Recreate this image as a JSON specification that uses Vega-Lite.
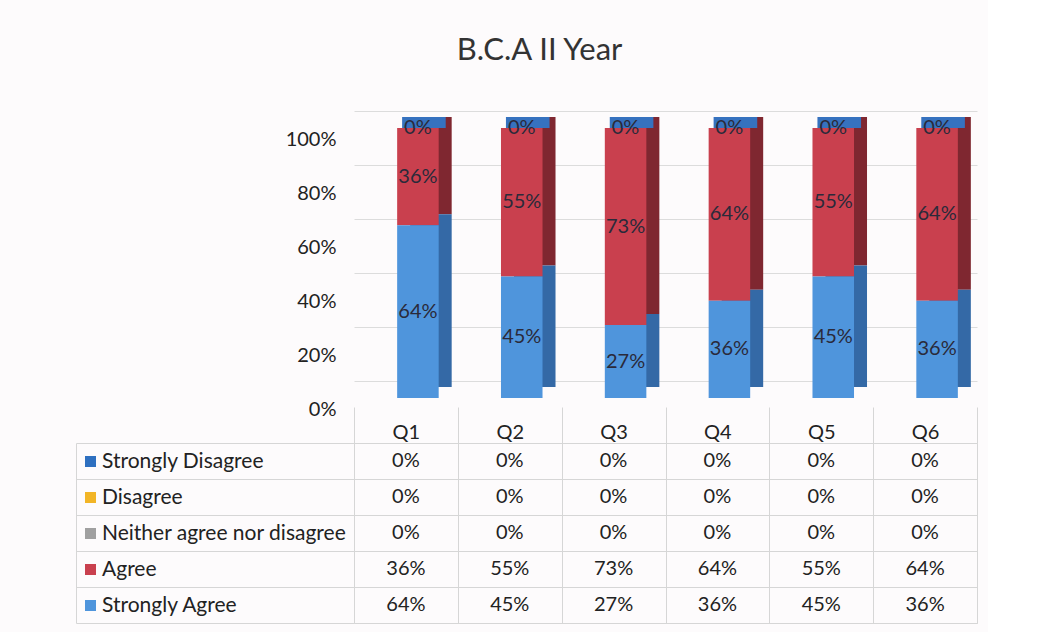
{
  "$schema": "https://vega.github.io/schema/vega-lite/v6.json",
  "background": "#fdfbfc",
  "padding": {"left": 75, "top": 35, "right": 10, "bottom": 8},
  "bounds": "flush",
  "spacing": 62,
  "title": {"text": "B.C.A II Year", "fontSize": 31, "font": "Lato", "fontWeight": "normal", "color": "#333333", "offset": 44, "anchor": "middle", "dx": 13},
  "config": {
    "font": "Lato",
    "view": {"stroke": null},
    "axis": {"labelFont": "Lato", "labelColor": "#222222", "title": null}
  },
  "data": {
    "values": [
      {"q": "Q1", "response": "Strongly Disagree", "score": 1, "value": 0},
      {"q": "Q1", "response": "Disagree", "score": 2, "value": 0},
      {"q": "Q1", "response": "Neither agree nor disagree", "score": 3, "value": 0},
      {"q": "Q1", "response": "Agree", "score": 4, "value": 0.36},
      {"q": "Q1", "response": "Strongly Agree", "score": 5, "value": 0.64},
      {"q": "Q2", "response": "Strongly Disagree", "score": 1, "value": 0},
      {"q": "Q2", "response": "Disagree", "score": 2, "value": 0},
      {"q": "Q2", "response": "Neither agree nor disagree", "score": 3, "value": 0},
      {"q": "Q2", "response": "Agree", "score": 4, "value": 0.55},
      {"q": "Q2", "response": "Strongly Agree", "score": 5, "value": 0.45},
      {"q": "Q3", "response": "Strongly Disagree", "score": 1, "value": 0},
      {"q": "Q3", "response": "Disagree", "score": 2, "value": 0},
      {"q": "Q3", "response": "Neither agree nor disagree", "score": 3, "value": 0},
      {"q": "Q3", "response": "Agree", "score": 4, "value": 0.73},
      {"q": "Q3", "response": "Strongly Agree", "score": 5, "value": 0.27},
      {"q": "Q4", "response": "Strongly Disagree", "score": 1, "value": 0},
      {"q": "Q4", "response": "Disagree", "score": 2, "value": 0},
      {"q": "Q4", "response": "Neither agree nor disagree", "score": 3, "value": 0},
      {"q": "Q4", "response": "Agree", "score": 4, "value": 0.64},
      {"q": "Q4", "response": "Strongly Agree", "score": 5, "value": 0.36},
      {"q": "Q5", "response": "Strongly Disagree", "score": 1, "value": 0},
      {"q": "Q5", "response": "Disagree", "score": 2, "value": 0},
      {"q": "Q5", "response": "Neither agree nor disagree", "score": 3, "value": 0},
      {"q": "Q5", "response": "Agree", "score": 4, "value": 0.55},
      {"q": "Q5", "response": "Strongly Agree", "score": 5, "value": 0.45},
      {"q": "Q6", "response": "Strongly Disagree", "score": 1, "value": 0},
      {"q": "Q6", "response": "Disagree", "score": 2, "value": 0},
      {"q": "Q6", "response": "Neither agree nor disagree", "score": 3, "value": 0},
      {"q": "Q6", "response": "Agree", "score": 4, "value": 0.64},
      {"q": "Q6", "response": "Strongly Agree", "score": 5, "value": 0.36}
    ]
  },
  "vconcat": [
    {
      "width": 623,
      "height": 270,
      "resolve": {"scale": {"color": "independent"}, "legend": {"color": "independent"}},
      "layer": [
        {
          "mark": {"type": "bar", "xOffset": 25, "yOffset": 6, "y2Offset": 6, "width": {"band": 0.4}},
          "encoding": {
            "x": {"field": "q", "type": "nominal", "scale": {"type": "band", "paddingInner": 0, "paddingOuter": 0}, "axis": null},
            "y": {"field": "value", "type": "quantitative", "stack": "zero", "scale": {"domain": [0, 1]},
                  "axis": {"values": [0, 0.1, 0.2, 0.3, 0.4, 0.5, 0.6, 0.7, 0.8, 0.9, 1], "format": ".0%", "grid": true, "gridColor": "#dcdcdc", "domain": false, "ticks": false, "labelPadding": 18, "labelOffset": 28, "labelFontSize": 20, "labelOverlap": false}},
            "order": {"field": "score", "sort": "descending"},
            "fill": {"field": "response", "type": "nominal",
                     "scale": {"domain": ["Strongly Disagree", "Disagree", "Neither agree nor disagree", "Agree", "Strongly Agree"], "range": ["#1f4f8a", "#b08010", "#707070", "#7f2730", "#3469a6"]}, "legend": null}
          }
        },
        {
          "transform": [
            {"stack": "value", "groupby": ["q"], "sort": [{"field": "score", "order": "descending"}], "as": ["v0", "v1"]},
            {"filter": "datum.response === 'Strongly Disagree'"}
          ],
          "mark": {"type": "bar", "xOffset": 18, "yOffset": 6, "y2Offset": 17, "width": {"band": 0.42}, "color": "#3672bf"},
          "encoding": {
            "x": {"field": "q", "type": "nominal"},
            "y": {"field": "v1", "type": "quantitative"},
            "y2": {"field": "v1"}
          }
        },
        {
          "mark": {"type": "bar", "xOffset": 12, "yOffset": 17, "y2Offset": 17, "width": {"band": 0.4}},
          "encoding": {
            "x": {"field": "q", "type": "nominal"},
            "y": {"field": "value", "type": "quantitative", "stack": "zero"},
            "order": {"field": "score", "sort": "descending"},
            "color": {"field": "response", "type": "nominal",
                      "scale": {"domain": ["Strongly Disagree", "Disagree", "Neither agree nor disagree", "Agree", "Strongly Agree"], "range": ["#2e70c0", "#f2b526", "#a0a0a0", "#c9404e", "#4f95dc"]},
                      "legend": {"orient": "none", "legendX": -274, "legendY": 340, "title": null, "symbolType": "square", "symbolSize": 121, "symbolStrokeWidth": 0, "symbolOpacity": 1, "labelFontSize": 21, "labelColor": "#222222", "labelFont": "Lato", "rowPadding": 14, "labelOffset": 1, "padding": 0, "labelLimit": 400}}
          }
        },
        {
          "mark": {"type": "text", "xOffset": 12, "yOffset": 17, "fontSize": 20, "font": "Lato"},
          "encoding": {
            "x": {"field": "q", "type": "nominal"},
            "y": {"field": "value", "type": "quantitative", "stack": "zero", "bandPosition": 0.5},
            "order": {"field": "score", "sort": "descending"},
            "color": {"field": "response", "type": "nominal",
                      "scale": {"domain": ["Strongly Disagree", "Disagree", "Neither agree nor disagree", "Agree", "Strongly Agree"], "range": ["#2a2a3a", "transparent", "transparent", "#2a2a3a", "#2a2a3a"]}, "legend": null},
            "text": {"field": "value", "type": "quantitative", "format": ".0%"}
          }
        }
      ]
    },
    {
      "width": 623,
      "height": 180,
      "view": {"stroke": "#d6d6d6"},
      "mark": {"type": "text", "fontSize": 20, "font": "Lato", "color": "#222222"},
      "encoding": {
        "x": {"field": "q", "type": "nominal", "scale": {"type": "band", "paddingInner": 0, "paddingOuter": 0},
              "axis": {"orient": "top", "tickBand": "extent", "tickSize": 36, "tickColor": "#d6d6d6", "labelPadding": -25, "labelBaseline": "middle", "labelAngle": 0, "labelFontSize": 20, "domain": false, "grid": true, "gridColor": "#d6d6d6"}},
        "y": {"field": "response", "type": "nominal", "sort": ["Strongly Disagree", "Disagree", "Neither agree nor disagree", "Agree", "Strongly Agree"],
              "scale": {"type": "band", "paddingInner": 0, "paddingOuter": 0},
              "axis": {"labels": false, "tickBand": "extent", "offset": 278, "tickSize": -278, "tickColor": "#d6d6d6", "domain": true, "domainColor": "#d6d6d6", "grid": true, "gridColor": "#d6d6d6"}},
        "text": {"field": "value", "type": "quantitative", "format": ".0%"}
      }
    }
  ]
}
